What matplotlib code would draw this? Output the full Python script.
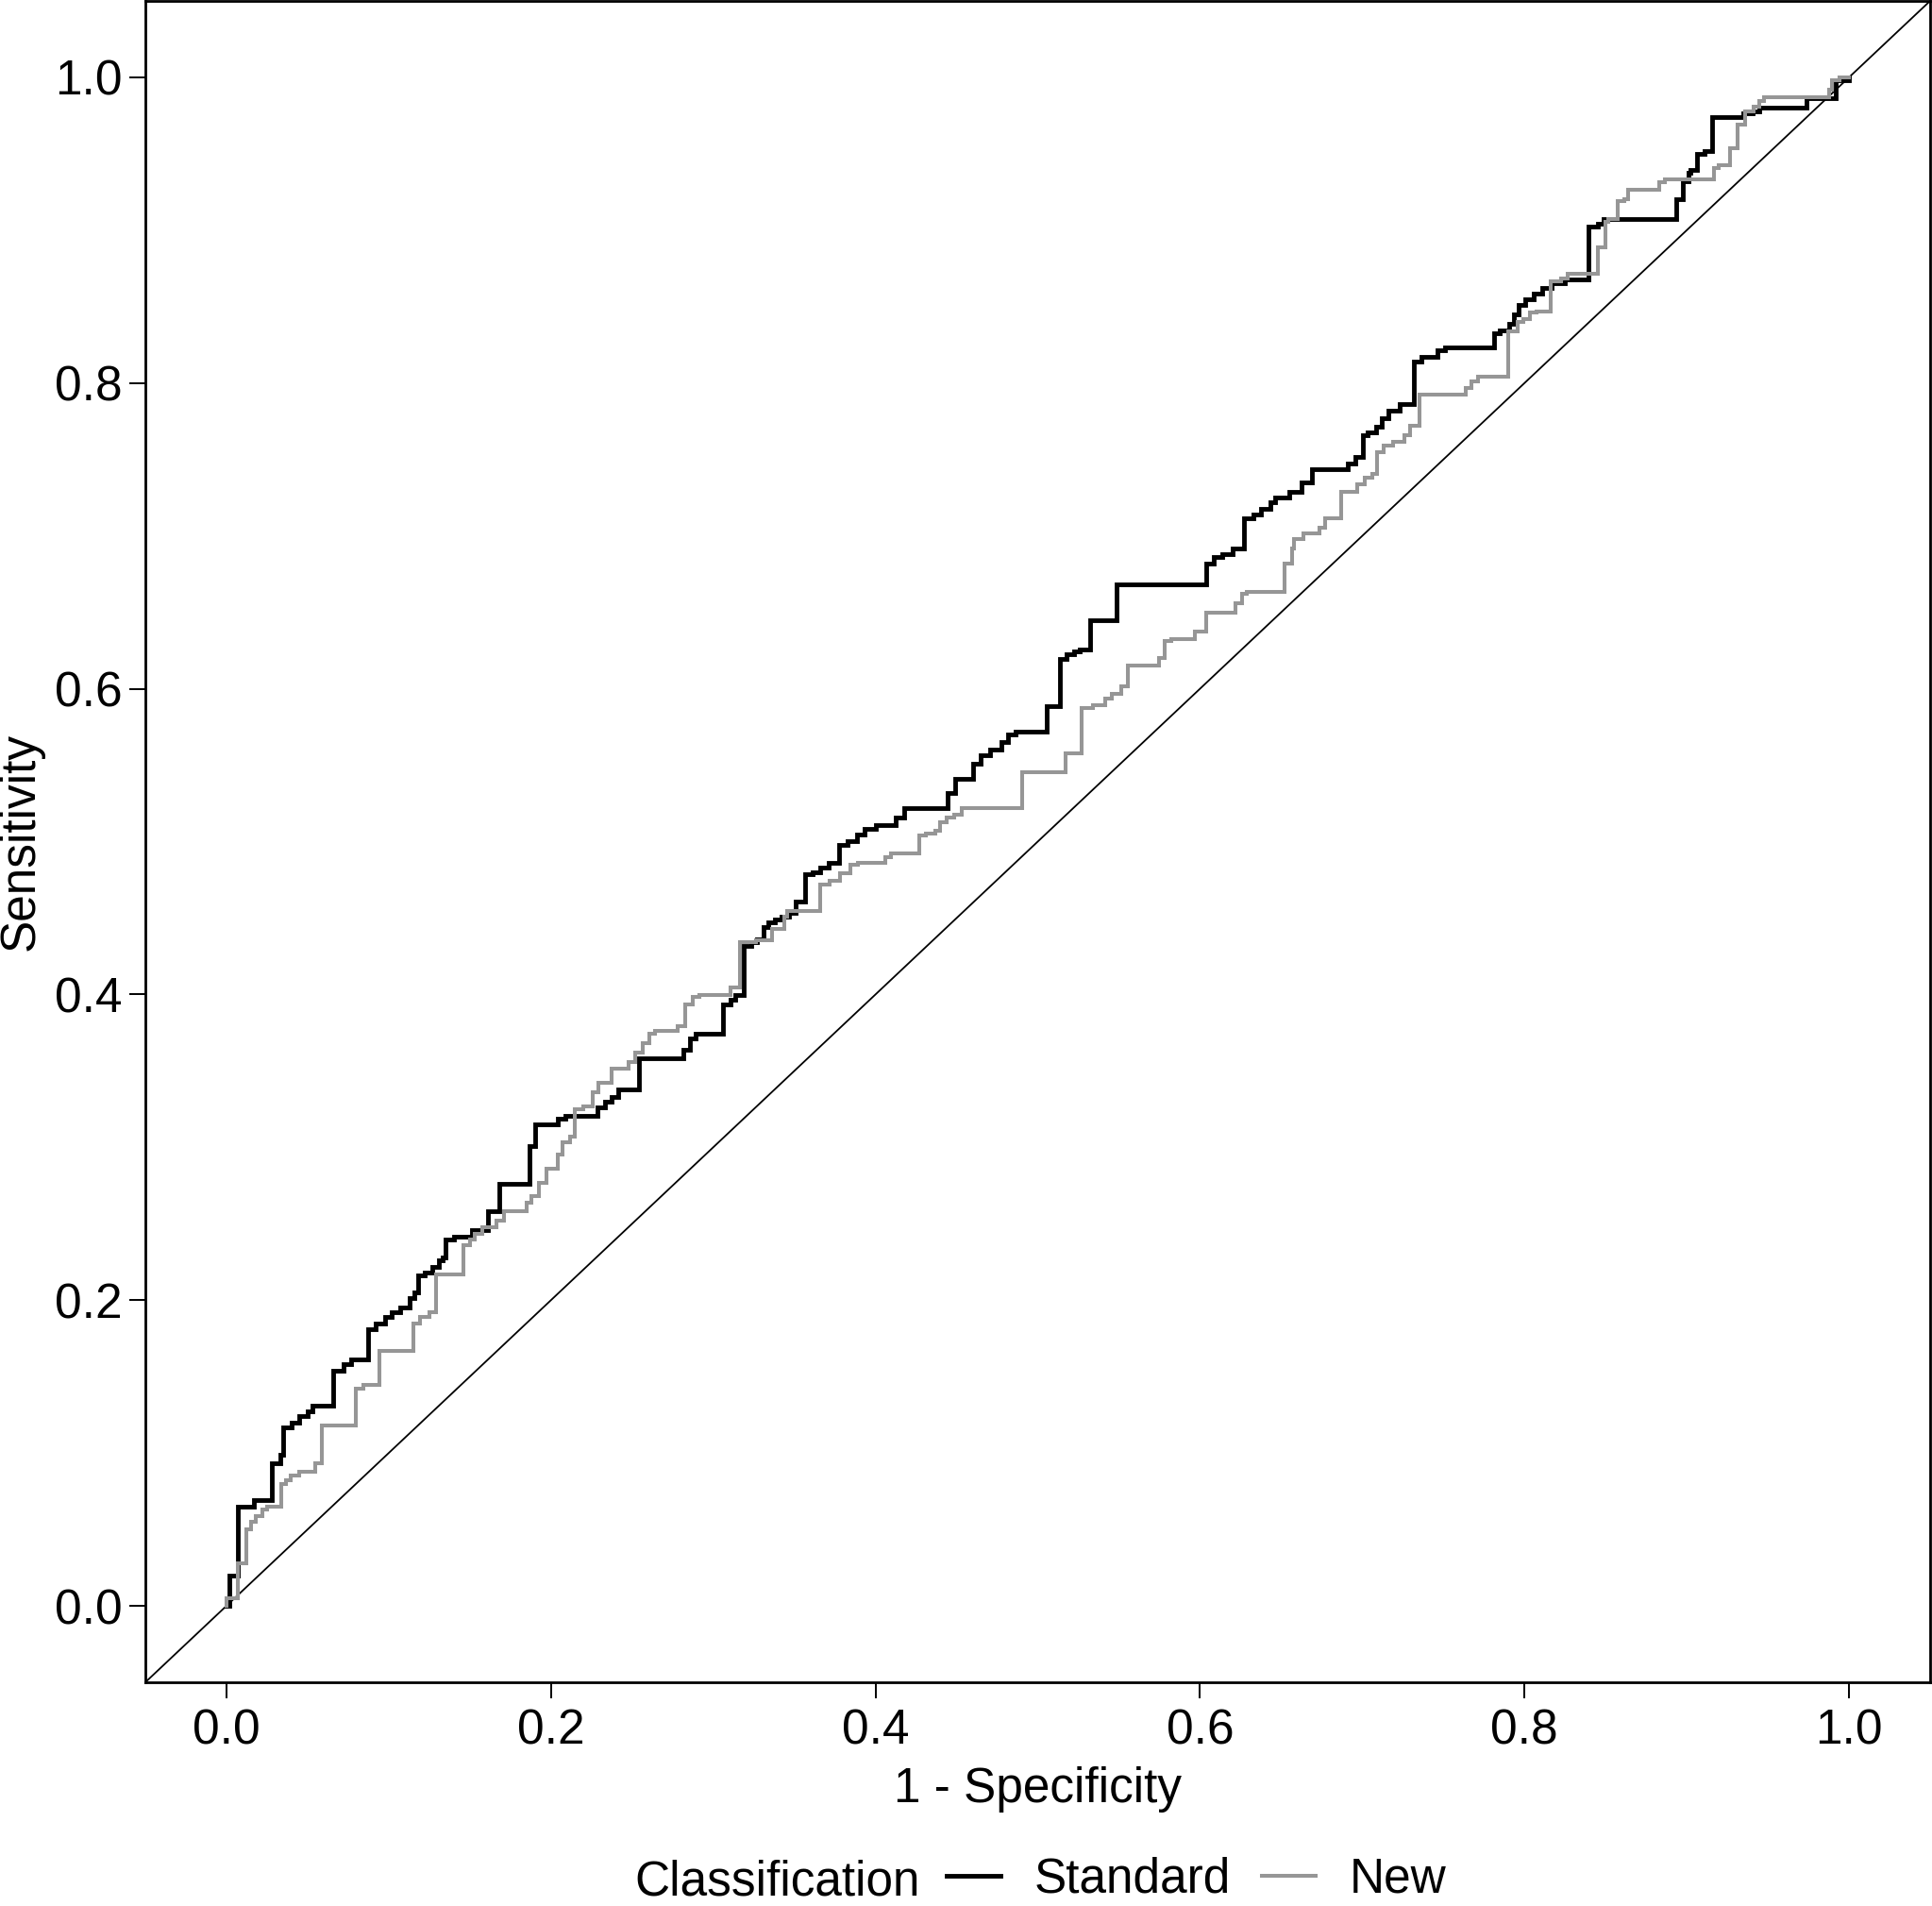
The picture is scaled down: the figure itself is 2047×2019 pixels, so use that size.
import matplotlib
matplotlib.use("Agg")
import matplotlib.pyplot as plt
from matplotlib.lines import Line2D

plt.rcParams['font.family'] = ['Liberation Sans', 'DejaVu Sans']

# ---- data ----
std_fpr = [0.000, 0.002, 0.007, 0.017, 0.028, 0.033, 0.035, 0.040, 0.045, 0.050,
           0.053, 0.0655, 0.072, 0.077, 0.087, 0.092, 0.0975, 0.102, 0.107, 0.113,
           0.116, 0.118, 0.122, 0.127, 0.131, 0.133, 0.135, 0.140, 0.151, 0.161,
           0.168, 0.187, 0.190, 0.204, 0.209, 0.2285, 0.2333, 0.2373, 0.2415, 0.254,
           0.2817, 0.2856, 0.289, 0.306, 0.3108, 0.3137, 0.3186, 0.3235, 0.327, 0.3312,
           0.3341, 0.338, 0.342, 0.3467, 0.3506, 0.3564, 0.3613, 0.366, 0.371, 0.3778,
           0.3825, 0.3884, 0.3933, 0.400, 0.4127, 0.4175, 0.4447, 0.449, 0.4602, 0.465,
           0.4708, 0.4776, 0.4815, 0.4864, 0.5058, 0.5135, 0.518, 0.5222, 0.526, 0.532,
           0.5484, 0.6040, 0.6085, 0.614, 0.620, 0.627, 0.6328, 0.6376, 0.6434, 0.6463,
           0.655, 0.6628, 0.669, 0.6909, 0.6958, 0.7006, 0.7035, 0.7084, 0.7122, 0.7161,
           0.7229, 0.7317, 0.7364, 0.7462, 0.751, 0.7811, 0.785, 0.7908, 0.7937, 0.7966,
           0.8005, 0.8054, 0.8112, 0.817, 0.8247, 0.8393, 0.845, 0.8489, 0.8936, 0.8975,
           0.901, 0.9023, 0.9061, 0.911, 0.9159, 0.935, 0.9409, 0.9449, 0.974, 0.992,
           1.000]
std_tpr = [0.000, 0.020, 0.065, 0.069, 0.093, 0.099, 0.117, 0.120, 0.124, 0.127,
           0.131, 0.154, 0.158, 0.161, 0.181, 0.185, 0.189, 0.192, 0.195, 0.2015,
           0.205, 0.216, 0.218, 0.222, 0.226, 0.228, 0.2395, 0.2415, 0.246, 0.258,
           0.276, 0.301, 0.315, 0.319, 0.3205, 0.326, 0.330, 0.333, 0.338, 0.358,
           0.364, 0.3715, 0.3744, 0.3935, 0.3965, 0.3996, 0.4316, 0.434, 0.436, 0.444,
           0.447, 0.449, 0.451, 0.4535, 0.461, 0.4786, 0.480, 0.483, 0.4858, 0.498,
           0.500, 0.5044, 0.5083, 0.5105, 0.5156, 0.5217, 0.532, 0.541, 0.551, 0.5567,
           0.560, 0.565, 0.570, 0.572, 0.5887, 0.6193, 0.6224, 0.6244, 0.6255, 0.645,
           0.6685, 0.682, 0.686, 0.688, 0.692, 0.7116, 0.714, 0.718, 0.722, 0.725,
           0.729, 0.735, 0.7434, 0.7475, 0.7516, 0.766, 0.768, 0.7717, 0.7767, 0.782,
           0.7865, 0.8142, 0.8173, 0.8214, 0.8235, 0.8327, 0.8347, 0.839, 0.845, 0.851,
           0.855, 0.8584, 0.862, 0.8655, 0.8676, 0.9025, 0.9045, 0.9076, 0.920, 0.9323,
           0.9374, 0.9395, 0.9497, 0.952, 0.9743, 0.9764, 0.978, 0.9805, 0.9866, 0.998,
           1.000]

new_fpr = [0.000, 0.000, 0.007, 0.012, 0.015, 0.018, 0.022, 0.025, 0.0335, 0.0365,
           0.0395, 0.045, 0.0547, 0.059, 0.080, 0.0843, 0.094, 0.1153, 0.1192, 0.125,
           0.1289, 0.1463, 0.150, 0.153, 0.1577, 0.1664, 0.1712, 0.1848, 0.1877, 0.1926,
           0.1974, 0.2043, 0.2072, 0.2120, 0.2149, 0.2197, 0.2255, 0.2294, 0.2372, 0.2478,
           0.2517, 0.2566, 0.2605, 0.2643, 0.2779, 0.2827, 0.2876, 0.2915, 0.3108, 0.3167,
           0.3264, 0.3361, 0.3438, 0.3458, 0.3661, 0.372, 0.378, 0.3845, 0.389, 0.406,
           0.4098, 0.4272, 0.4311, 0.4369, 0.4398, 0.4437, 0.4486, 0.4534, 0.4902, 0.5173,
           0.527, 0.5339, 0.5417, 0.5455, 0.5513, 0.5555, 0.5746, 0.5785, 0.5823, 0.597,
           0.6036, 0.622, 0.626, 0.629, 0.652, 0.6565, 0.658, 0.6638, 0.6735, 0.6774,
           0.6871, 0.6968, 0.7016, 0.7065, 0.7094, 0.7132, 0.719, 0.7259, 0.7297, 0.7355,
           0.7636, 0.7675, 0.7714, 0.7898, 0.7956, 0.7995, 0.8034, 0.8073, 0.8159, 0.8227,
           0.8266, 0.8451, 0.850, 0.8519, 0.8577, 0.8616, 0.8636, 0.8829, 0.8868, 0.9168,
           0.9197, 0.9265, 0.9313, 0.9362, 0.941, 0.9449, 0.9478, 0.9876, 0.9895, 0.9944,
           1.000]
new_tpr = [0.000, 0.005, 0.028, 0.050, 0.055, 0.059, 0.063, 0.065, 0.0794, 0.082,
           0.085, 0.0876, 0.093, 0.118, 0.142, 0.1445, 0.1667, 0.185, 0.189, 0.192,
           0.217, 0.236, 0.2395, 0.2435, 0.2477, 0.2518, 0.258, 0.2635, 0.2682, 0.277,
           0.286, 0.295, 0.303, 0.307, 0.3247, 0.3267, 0.336, 0.3422, 0.3514, 0.3555,
           0.3617, 0.368, 0.3744, 0.376, 0.379, 0.3935, 0.3986, 0.3996, 0.4047, 0.4345,
           0.4356, 0.4426, 0.451, 0.4548, 0.4717, 0.4745, 0.4796, 0.4848, 0.4858, 0.4899,
           0.492, 0.5043, 0.5053, 0.5074, 0.5125, 0.5156, 0.5177, 0.5217, 0.5454, 0.5577,
           0.5874, 0.5895, 0.5936, 0.5967, 0.6018, 0.615, 0.6199, 0.6313, 0.6326, 0.6375,
           0.650, 0.6561, 0.6623, 0.6634, 0.682, 0.692, 0.6978, 0.7014, 0.7055, 0.7116,
           0.729, 0.7337, 0.7378, 0.7404, 0.7547, 0.7588, 0.7618, 0.7659, 0.772, 0.7927,
           0.7968, 0.8009, 0.804, 0.8337, 0.840, 0.8419, 0.846, 0.847, 0.8666, 0.8686,
           0.8717, 0.889, 0.9056, 0.9076, 0.919, 0.920, 0.9265, 0.9312, 0.9333, 0.9405,
           0.9425, 0.9538, 0.969, 0.978, 0.981, 0.9844, 0.987, 0.9918, 0.998, 1.000,
           1.000]

ref_line = [-0.05, 1.05]
tick_vals = [0.0, 0.2, 0.4, 0.6, 0.8, 1.0]
tick_labels = ["0.0", "0.2", "0.4", "0.6", "0.8", "1.0"]
series_names = ["Standard", "New"]
legend_title = "Classification"

# ---- figure ----
W, H = 2047, 2019
fig = plt.figure(figsize=(W / 100, H / 100), dpi=100)
ax = fig.add_axes([154 / W, (H - 1782) / H, (2045 - 154) / W, 1781 / H])

FS = 37
c_std = "#000000"
c_new = "#969696"
lw_std = 3.5
lw_new = 2.9

ax.plot(ref_line, ref_line, color="black", lw=1.3, zorder=1)
ax.step(std_fpr, std_tpr, where="post", color=c_std, lw=lw_std, zorder=2,
        solid_joinstyle="miter")
ax.step(new_fpr, new_tpr, where="post", color=c_new, lw=lw_new, zorder=3,
        solid_joinstyle="miter")

ax.set_xlim(-0.05, 1.05)
ax.set_ylim(-0.05, 1.05)
ax.set_xticks(tick_vals)
ax.set_xticklabels(tick_labels)
ax.set_yticks(tick_vals)
ax.set_yticklabels(tick_labels)
ax.tick_params(axis="both", length=12.5, width=1.4, color="black",
               labelsize=FS, labelcolor="black")
ax.tick_params(axis="x", pad=7)
ax.tick_params(axis="y", pad=5)
for s in ax.spines.values():
    s.set_linewidth(2.0)
    s.set_color("black")

ax.set_xlabel("1 - Specificity", fontsize=FS, labelpad=9)
ax.set_ylabel("Sensitivity", fontsize=FS)
ax.yaxis.set_label_coords(-0.057, 0.5)

# legend at the bottom: title on the left, entries to the right
fig.text(672 / W, 12 / H, legend_title, fontsize=FS, ha="left", va="baseline")
handles = [Line2D([], [], color=c_std, lw=lw_std),
           Line2D([], [], color=c_new, lw=lw_new)]
fig.legend(handles, series_names, loc="center left",
           bbox_to_anchor=(1003 / W, 28 / H), ncol=2, frameon=False,
           fontsize=FS, handlelength=1.1, handletextpad=0.7,
           columnspacing=0.65, borderpad=0, borderaxespad=0)

fig.savefig("out.png", dpi=100)
